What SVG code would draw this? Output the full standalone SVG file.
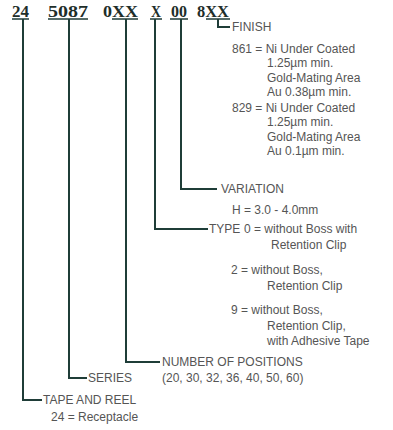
<svg xmlns="http://www.w3.org/2000/svg" width="393" height="430" viewBox="0 0 393 430">
<style>
.code{font-family:"Liberation Serif",serif;font-weight:bold;font-size:17px;fill:#1e2e2a}
.t{font-family:"Liberation Sans",Arial,sans-serif;font-size:12px;fill:#555}
.ln{fill:none;stroke:#1f3d38;stroke-width:2}
.ul{fill:none;stroke:#1f3d38;stroke-width:1.6}
</style>
<rect width="393" height="430" fill="#fff"/>
<g id="code">
<text class="code" x="12" y="17" textLength="17" lengthAdjust="spacingAndGlyphs">24</text>
<text class="code" x="48" y="17" textLength="40" lengthAdjust="spacingAndGlyphs">5087</text>
<text class="code" x="103" y="17" textLength="35" lengthAdjust="spacingAndGlyphs">0XX</text>
<text class="code" x="151" y="17" textLength="10" lengthAdjust="spacingAndGlyphs">X</text>
<text class="code" x="171" y="17" textLength="16" lengthAdjust="spacingAndGlyphs">00</text>
<text class="code" x="197" y="17" textLength="32" lengthAdjust="spacingAndGlyphs">8XX</text>
<path class="ul" d="M12 19H29M48 19H88M112 19H138M150 19H162M170 19H188M206 19H230"/>
</g>
<g id="connectors">
<path class="ln" d="M23 19V400H42"/>
<path class="ln" d="M69 19V378H87"/>
<path class="ln" d="M126 19V362H160"/>
<path class="ln" d="M155 19V229H208"/>
<path class="ln" d="M181 19V189H217"/>
<path class="ln" d="M218 19V27H230"/>
</g>
<g id="finish">
<text class="t" x="232" y="31">FINISH</text>
<text class="t" x="232" y="53">861 = Ni Under Coated</text>
<text class="t" x="267" y="67">1.25µm min.</text>
<text class="t" x="267" y="82">Gold-Mating Area</text>
<text class="t" x="267" y="96">Au 0.38µm min.</text>
<text class="t" x="232" y="112">829 = Ni Under Coated</text>
<text class="t" x="267" y="126">1.25µm min.</text>
<text class="t" x="267" y="141">Gold-Mating Area</text>
<text class="t" x="267" y="155">Au 0.1µm min.</text>
</g>
<g id="variation">
<text class="t" x="221" y="193">VARIATION</text>
<text class="t" x="232" y="214">H = 3.0 - 4.0mm</text>
</g>
<g id="type">
<text class="t" x="209" y="233">TYPE</text>
<text class="t" x="244" y="233">0 = without Boss with</text>
<text class="t" x="271" y="249">Retention Clip</text>
<text class="t" x="231" y="274">2 = without Boss,</text>
<text class="t" x="267" y="290">Retention Clip</text>
<text class="t" x="231" y="314">9 = without Boss,</text>
<text class="t" x="267" y="330">Retention Clip,</text>
<text class="t" x="267" y="345">with Adhesive Tape</text>
</g>
<g id="positions">
<text class="t" x="162" y="366">NUMBER OF POSITIONS</text>
<text class="t" x="162" y="382">(20, 30, 32, 36, 40, 50, 60)</text>
</g>
<g id="series">
<text class="t" x="88" y="382">SERIES</text>
</g>
<g id="tape">
<text class="t" x="43" y="404">TAPE AND REEL</text>
<text class="t" x="51" y="421">24 = Receptacle</text>
</g>
</svg>
